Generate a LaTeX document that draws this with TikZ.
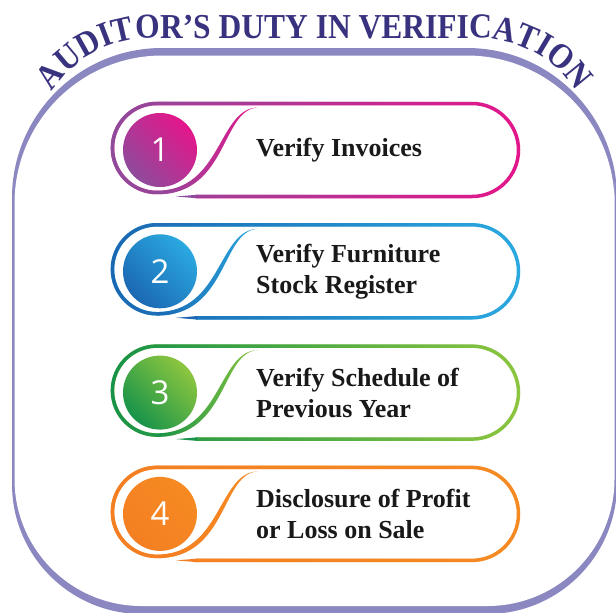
\documentclass[tikz,border=0pt]{standalone}
\usepackage{fontspec}
\setmainfont{Liberation Serif}
\newfontfamily\numfam{Open Sans}
\newfontfamily\ttlfam{Liberation Serif Bold}[FakeStretch=0.9]
\usetikzlibrary{positioning,decorations.text,fadings}
\definecolor{framec}{HTML}{8B87C1}
\definecolor{ttlc}{HTML}{38327F}
\definecolor{pinkA}{HTML}{8E4B9C}
\definecolor{pinkB}{HTML}{E4168B}
\definecolor{blueA}{HTML}{1B68B2}
\definecolor{blueB}{HTML}{2BA9E0}
\definecolor{greenA}{HTML}{17934A}
\definecolor{greenB}{HTML}{8DC63F}
\definecolor{orangeA}{HTML}{F47F22}
\definecolor{orangeB}{HTML}{F68A22}
\newcommand\ttlfont{\ttlfam\fontsize{35pt}{35pt}\selectfont}
\newcommand\itemfont{\fontsize{26pt}{31pt}\selectfont\bfseries}
\newcommand\numfont{\numfam\fontsize{33pt}{33pt}\selectfont}
\tikzfading[name=fadeleft, left color=transparent!0, right color=transparent!100]
\tikzset{node distance=47.3pt, auto,
  num/.style 2 args={circle, minimum size=74pt, inner sep=0pt, outer sep=0pt,
    font=\numfont, text=white, top color=#2, bottom color=#1, shading angle=-45},
  item/.style={align=left, inner sep=0pt, font=\itemfont, text=black!90},
  pillline/.style={line width=3.5pt},
  pics/pill/.style 2 args={code={
    \draw[pillline, #2] (36,46.5) -- (312,46.5) arc[start angle=90, end angle=-90, radius=46.5]
      -- (-3,-46.5) arc[start angle=270, end angle=90, radius=44.5];
    \draw[pillline, #1, path fading=fadeleft, fit fading=true] (36,46.5) -- (312,46.5)
      arc[start angle=90, end angle=-90, radius=46.5]
      -- (-3,-46.5) arc[start angle=270, end angle=90, radius=44.5];
    \fill[#2] (-3,40.75) .. controls (62,40.75) and (58,-42) .. (98,-42.5)
      .. controls (61,-41) and (68,44.25) .. (-3,44.25) -- cycle;
    \fill[#1, path fading=fadeleft, fit fading=true] (-3,40.75) .. controls (62,40.75) and (58,-42) .. (98,-42.5)
      .. controls (61,-41) and (68,44.25) .. (-3,44.25) -- cycle;
    \fill[#1] (16,46.5) -- (37,44.75) -- (37,48.25) -- cycle;
  }}
}
\begin{document}
\begin{tikzpicture}[x=1pt, y=-1pt]
  \useasboundingbox (0,0) rectangle (616,613);
  \fill[framec] (12,330) [rounded corners=150pt] -- (12,48) -- (617,48) -- (617,330)
    [rounded corners=130pt] -- (617,614) -- (12,614) -- (12,330) -- cycle;
  \fill[white] (14.5,330) [rounded corners=148pt] -- (14.5,55.5) -- (614.5,55.5) -- (614.5,330)
    [rounded corners=127pt] -- (614.5,606) -- (14.5,606) -- (14.5,330) -- cycle;
  \path[decorate, decoration={text along path, text align=center, text color=ttlc,
    text={|\ttlfont|AUDITOR’S DUTY IN VERIFICATION}}]
    (48,98) arc[start angle=210, end angle=270, radius=120] -- (477,38)
    arc[start angle=270, end angle=330, radius=120];

  \node (c1) [num={pinkA}{pinkB}] at (160,150) {1};
  \node (c2) [num={blueA}{blueB}, below=of c1] {2};
  \node (c3) [num={greenA}{greenB}, below=of c2] {3};
  \node (c4) [num={orangeA}{orangeB}, below=of c3] {4};

  \node (t1) [item, right=59pt of c1] {Verify Invoices};
  \node (t2) [item, right=59pt of c2] {Verify Furniture\\Stock Register};
  \node (t3) [item, right=59pt of c3] {Verify Schedule of\\Previous Year};
  \node (t4) [item, right=59pt of c4] {Disclosure of Profit\\or Loss on Sale};

  \pic at (c1) {pill={pinkA}{pinkB}};
  \pic at (c2) {pill={blueA}{blueB}};
  \pic at (c3) {pill={greenA}{greenB}};
  \pic at (c4) {pill={orangeA}{orangeB}};
\end{tikzpicture}
\end{document}
